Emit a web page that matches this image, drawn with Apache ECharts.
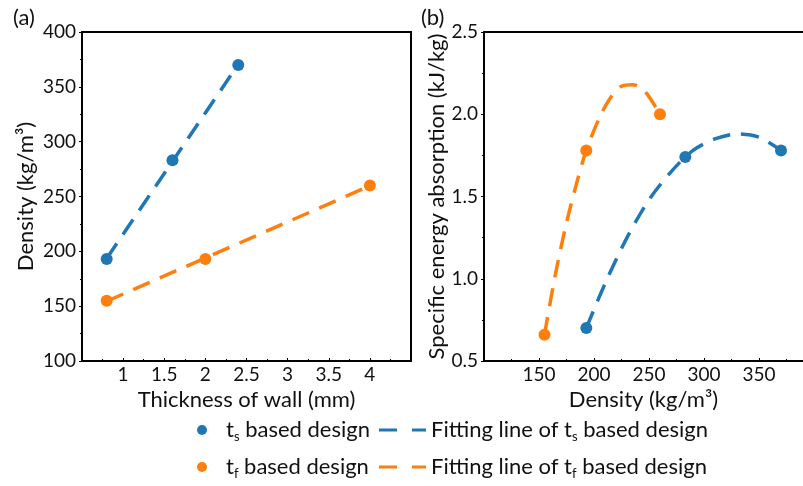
<!DOCTYPE html>
<html>
<head>
<meta charset="utf-8">
<script src="https://cdn.jsdelivr.net/npm/echarts@6/dist/echarts.min.js"></script>
<style>
  html, body { margin: 0; padding: 0; background: #fff; }
  #chart { width: 803px; height: 486px; }
</style>
</head>
<body>
<div id="chart"></div>
<script>
// (a) density against wall thickness
const tsThickness = [0.8, 1.6, 2.4];
const tsDensity = [193, 283, 370];
const tfThickness = [0.8, 2.0, 4.0];
const tfDensity = [155, 193, 260];

// linear fits for (a)
const tsFitThickness = [0.8, 2.4];
const tsFitDensity = [193.5, 370.5];
const tfFitThickness = [0.8, 4.0];
const tfFitDensity = [154.5, 259.7];

// (b) specific energy absorption against density
const tsSEA = [0.70, 1.74, 1.78];
const tfSEA = [0.66, 1.78, 2.00];

// fitted curves for (b)
const tsFitDens = [193, 210, 230, 250, 270, 290, 310, 330, 350, 370];
const tsFitSEA = [0.70, 0.97, 1.25, 1.48, 1.65, 1.78, 1.85, 1.88, 1.86, 1.78];
const tfFitDens = [155, 165, 175, 185, 193, 205, 215, 225, 235, 245, 260];
const tfFitSEA = [0.66, 1.03, 1.34, 1.60, 1.78, 1.98, 2.10, 2.17, 2.18, 2.15, 2.00];

// axis ticks (panel b is cut at the right edge of the figure)
const xTicksA = { min: 0.5, max: 4.5, interval: 0.5 };
const yTicksA = { min: 100, max: 400, interval: 50 };
const xTicksB = { min: 100, max: 390, interval: 50 };
const yTicksB = { min: 0.5, max: 2.5, interval: 0.5 };

const BLUE = '#1f77b4';
const ORANGE = '#ff7f0e';
const INK = '#111';
const FONT = 'Lato';
const TICK_SIZE = 19;
const TITLE_SIZE = 22;

const NAME_TS = 'ts based design';
const NAME_TF = 'tf based design';
const NAME_TS_FIT = 'Fitting line of ts based design';
const NAME_TF_FIT = 'Fitting line of tf based design';

const legendText = {
  [NAME_TS]: '{n|t}{s|s}{n| based design}',
  [NAME_TF]: '{n|t}{s|f}{n| based design}',
  [NAME_TS_FIT]: '{n|Fitting line of t}{s|s}{n| based design}',
  [NAME_TF_FIT]: '{n|Fitting line of t}{s|f}{n| based design}'
};

const zip = (xs, ys) => xs.map((x, i) => [x, ys[i]]);

const richStyle = {
  n: { fontFamily: FONT, fontSize: TITLE_SIZE, color: INK, lineHeight: 26 },
  s: { fontFamily: FONT, fontSize: 13, color: INK, lineHeight: 13, verticalAlign: 'bottom' }
};

function valueAxis(ticks, gridIndex, extra) {
  return Object.assign({
    type: 'value',
    gridIndex: gridIndex,
    min: ticks.min,
    max: ticks.max,
    interval: ticks.interval,
    nameLocation: 'middle',
    nameTextStyle: { fontFamily: FONT, fontSize: TITLE_SIZE, color: INK },
    axisLine: { show: true, onZero: false, lineStyle: { color: '#000', width: 2 } },
    splitLine: { show: false },
    minorTick: { show: true, splitNumber: 2, length: 2, lineStyle: { color: '#000', width: 1 } }
  }, extra);
}

const dash = [18, 11];
const dotStyle = c => ({ color: c, opacity: 1 });

const option = {
  animation: false,
  backgroundColor: '#fff',
  title: [
    { text: '(a)', left: 8, top: 2, textStyle: { fontFamily: FONT, fontSize: TITLE_SIZE, fontWeight: 'normal', color: INK } },
    { text: '(b)', left: 416, top: 2, textStyle: { fontFamily: FONT, fontSize: TITLE_SIZE, fontWeight: 'normal', color: INK } }
  ],
  grid: [
    { left: 82, top: 32, width: 329, height: 329, show: true, borderColor: '#000', borderWidth: 2, backgroundColor: 'transparent' },
    { left: 484, top: 32, width: 319, height: 329, show: false }
  ],
  xAxis: [
    valueAxis(xTicksA, 0, {
      name: 'Thickness of wall (mm)', nameGap: 24,
      axisTick: { inside: true, length: 3, lineStyle: { color: '#000' } },
      axisLabel: { fontFamily: FONT, fontSize: TICK_SIZE, color: INK, margin: 4, showMinLabel: false, showMaxLabel: false }
    }),
    valueAxis(xTicksB, 1, {
      name: 'Density (kg/m\u00b3)', nameGap: 24,
      axisTick: { inside: true, length: 3, lineStyle: { color: '#000' } },
      axisLabel: { fontFamily: FONT, fontSize: TICK_SIZE, color: INK, margin: 4, showMinLabel: false, showMaxLabel: false }
    }),
    // top frame line of panel (b)
    valueAxis(xTicksB, 1, {
      position: 'top',
      axisTick: { show: false }, minorTick: { show: false }, axisLabel: { show: false }
    })
  ],
  yAxis: [
    valueAxis(yTicksA, 0, {
      name: 'Density (kg/m\u00b3)', nameGap: 45, nameRotate: 90,
      axisTick: { inside: false, length: 3, lineStyle: { color: '#000' } },
      axisLabel: { fontFamily: FONT, fontSize: TICK_SIZE, color: INK, margin: 6 }
    }),
    valueAxis(yTicksB, 1, {
      name: 'Specific energy absorption (kJ/kg)', nameGap: 36, nameRotate: 90,
      axisTick: { inside: false, length: 3, lineStyle: { color: '#000' } },
      axisLabel: { fontFamily: FONT, fontSize: TICK_SIZE, color: INK, margin: 6, formatter: v => v.toFixed(1) }
    })
  ],
  legend: [
    {
      data: [NAME_TS, NAME_TF],
      orient: 'vertical', left: 192, top: 414, itemGap: 13,
      icon: 'circle', itemWidth: 10, itemHeight: 10,
      formatter: n => legendText[n],
      textStyle: { padding: [0, 0, 0, 14], rich: richStyle }
    },
    {
      data: [NAME_TS_FIT, NAME_TF_FIT],
      orient: 'vertical', left: 374, top: 414, itemGap: 13,
      icon: 'path://M0,0H18V3H0Z M33,0H47V3H33Z', itemWidth: 47, itemHeight: 3,
      formatter: n => legendText[n],
      textStyle: { rich: richStyle }
    }
  ],
  series: [
    // (a) fitted lines
    { name: NAME_TS_FIT, type: 'line', xAxisIndex: 0, yAxisIndex: 0, data: zip(tsFitThickness, tsFitDensity), showSymbol: false, color: BLUE, lineStyle: { color: BLUE, width: 3.5, type: dash }, z: 2 },
    { name: NAME_TF_FIT, type: 'line', xAxisIndex: 0, yAxisIndex: 0, data: zip(tfFitThickness, tfFitDensity), showSymbol: false, color: ORANGE, lineStyle: { color: ORANGE, width: 3.5, type: dash }, z: 2 },
    // (a) design points
    { name: NAME_TS, type: 'scatter', xAxisIndex: 0, yAxisIndex: 0, data: zip(tsThickness, tsDensity), symbolSize: 12, color: BLUE, itemStyle: dotStyle(BLUE), z: 3 },
    { name: NAME_TF, type: 'scatter', xAxisIndex: 0, yAxisIndex: 0, data: zip(tfThickness, tfDensity), symbolSize: 12, color: ORANGE, itemStyle: dotStyle(ORANGE), z: 3 },
    // (b) fitted curves
    { name: NAME_TS_FIT, type: 'line', xAxisIndex: 1, yAxisIndex: 1, data: zip(tsFitDens, tsFitSEA), smooth: 0.3, showSymbol: false, color: BLUE, lineStyle: { color: BLUE, width: 3.5, type: dash }, z: 2 },
    { name: NAME_TF_FIT, type: 'line', xAxisIndex: 1, yAxisIndex: 1, data: zip(tfFitDens, tfFitSEA), smooth: 0.3, showSymbol: false, color: ORANGE, lineStyle: { color: ORANGE, width: 3.5, type: dash }, z: 2 },
    // (b) design points
    { name: NAME_TS, type: 'scatter', xAxisIndex: 1, yAxisIndex: 1, data: zip(tsDensity, tsSEA), symbolSize: 12, color: BLUE, itemStyle: dotStyle(BLUE), z: 3 },
    { name: NAME_TF, type: 'scatter', xAxisIndex: 1, yAxisIndex: 1, data: zip(tfDensity, tfSEA), symbolSize: 12, color: ORANGE, itemStyle: dotStyle(ORANGE), z: 3 }
  ]
};

const chart = echarts.init(document.getElementById('chart'), null, { renderer: 'canvas' });
chart.setOption(option);
</script>
</body>
</html>
